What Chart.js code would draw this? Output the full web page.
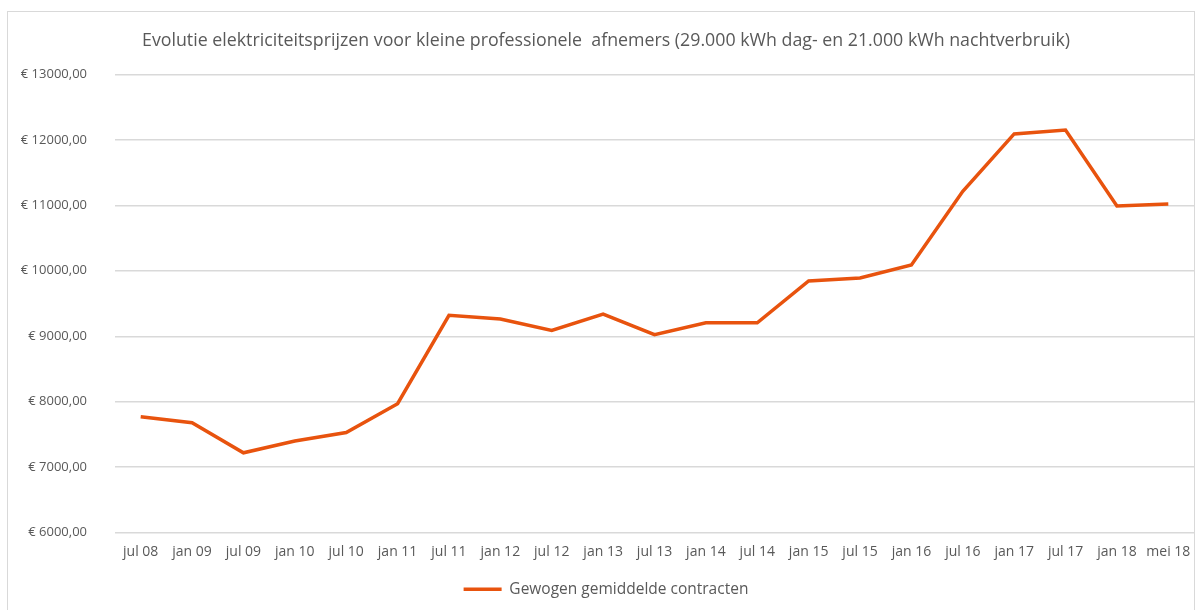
<!DOCTYPE html>
<html>
<head>
<meta charset="utf-8">
<script src="https://cdn.jsdelivr.net/npm/chart.js@4"></script>
<style>
  html, body { margin: 0; padding: 0; background: #fff; }
  #wrap { position: relative; width: 1202px; height: 610px; }
  #frame { position: absolute; left: 7px; top: 11px; width: 1188px; height: 620px; border: 1px solid #d9d9d9; box-sizing: border-box; }
  canvas { position: absolute; left: 0; top: 0; }
</style>
</head>
<body>
<div id="wrap">
  <div id="frame"></div>
  <canvas id="priceChart" width="1202" height="610"></canvas>
</div>
<script>
// ─── Data ─────────────────────────────────────────────────────────────────────
const periods = ['jul 08', 'jan 09', 'jul 09', 'jan 10', 'jul 10', 'jan 11', 'jul 11',
  'jan 12', 'jul 12', 'jan 13', 'jul 13', 'jan 14', 'jul 14', 'jan 15', 'jul 15',
  'jan 16', 'jul 16', 'jan 17', 'jul 17', 'jan 18', 'mei 18'];
const weightedAvg = [7770, 7680, 7220, 7400, 7530, 7970, 9320,
  9265, 9090, 9340, 9025, 9205, 9205, 9845, 9890,
  10090, 11215, 12090, 12150, 10990, 11020];
const seriesName = 'Gewogen gemiddelde contracten';
const chartTitle = 'Evolutie elektriciteitsprijzen voor kleine professionele  afnemers (29.000 kWh dag- en 21.000 kWh nachtverbruik)';
const yMin = 6000, yMax = 13000, yStep = 1000;

const grey = '#595959';
const orange = '#E8530E';
const font = '"Open Sans", sans-serif';

// ─── Chart ────────────────────────────────────────────────────────────────────
new Chart(document.getElementById('priceChart'), {
  type: 'line',
  data: {
    labels: periods,
    datasets: [{
      label: seriesName,
      data: weightedAvg,
      borderColor: orange,
      backgroundColor: orange,
      borderWidth: 3.5,
      pointRadius: 0,
      tension: 0,
      fill: false,
    }]
  },
  options: {
    responsive: false,
    animation: false,
    layout: { padding: { left: 18, right: 8, top: 0, bottom: 3 } },
    plugins: {
      title: {
        display: true,
        text: chartTitle,
        color: grey,
        font: { family: font, size: 17.8, weight: 'normal' },
        padding: { top: 30, bottom: 23 }
      },
      legend: {
        position: 'bottom',
        labels: {
          color: grey,
          font: { family: font, size: 15.5 },
          usePointStyle: true,
          pointStyle: 'line',
          pointStyleWidth: 38,
          padding: 10
        }
      },
      tooltip: { enabled: false }
    },
    scales: {
      y: {
        min: yMin, max: yMax,
        afterFit: s => { s.width = 97; },
        ticks: {
          stepSize: yStep, color: grey, padding: 28,
          font: { family: font, size: 13 },
          callback: v => '€ ' + v + ',00'
        },
        grid: { color: '#d9d9d9', lineWidth: 1.5, drawTicks: false },
        border: { display: false }
      },
      x: {
        offset: true,
        ticks: { color: grey, padding: 11, maxRotation: 0, autoSkip: false, font: { family: font, size: 14 } },
        grid: { display: false, drawTicks: false },
        border: { display: false }
      }
    }
  }
});
</script>
</body>
</html>
